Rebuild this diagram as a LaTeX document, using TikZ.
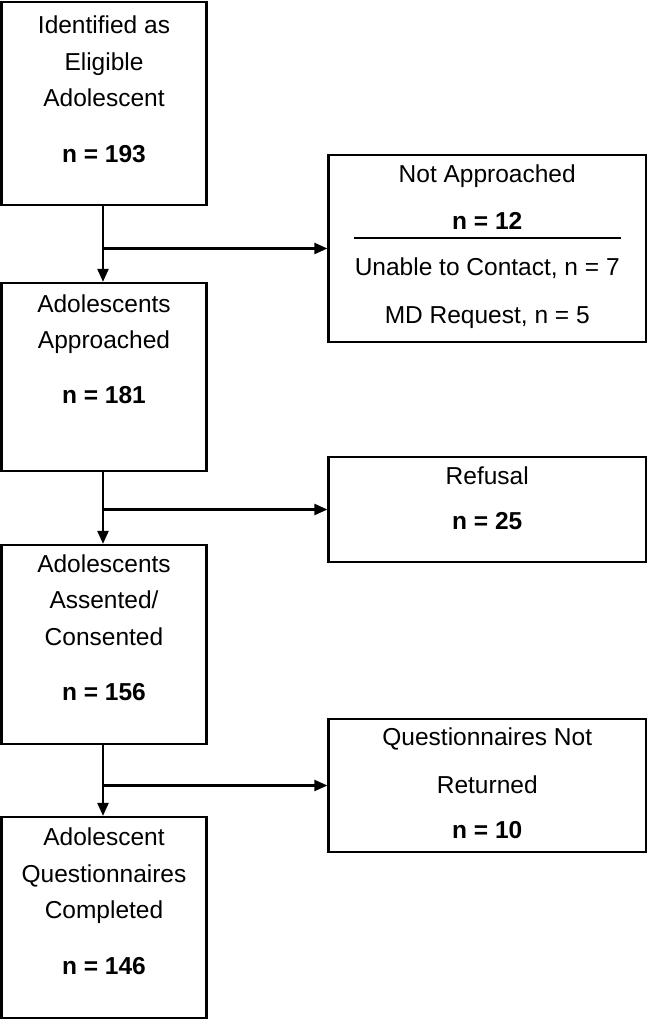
\documentclass[tikz,border=0pt]{standalone}
\usepackage{fontspec}
\setmainfont{Liberation Sans}
\usetikzlibrary{arrows.meta}
\begin{document}
\begin{tikzpicture}[x=1pt,y=-1pt,
  box/.style={draw=black, line width=2.2pt, rectangle, inner sep=0pt},
  txt/.style={anchor=base, inner sep=0pt, font=\fontsize{24.5}{30}\selectfont},
  btxt/.style={txt, font=\fontsize{24.5}{30}\selectfont\bfseries},
  arr/.style={line width=2.2pt, -{Triangle[length=13pt,width=11pt]}},
  ln/.style={line width=2.2pt}]
\useasboundingbox (0,0) rectangle (648,1020);
% left boxes
\node[box, minimum width=205pt, minimum height=203pt] (b1) at (104,103.5) {};
\node[box, minimum width=205pt, minimum height=188pt] (b2) at (104,377) {};
\node[box, minimum width=205pt, minimum height=199pt] (b3) at (104,644.5) {};
\node[box, minimum width=205pt, minimum height=201pt] (b4) at (104,917.5) {};
% right boxes
\node[box, minimum width=317.5pt, minimum height=187pt] (rA) at (487.25,248.5) {};
\node[box, minimum width=317.5pt, minimum height=105pt] (rB) at (487.25,509.5) {};
\node[box, minimum width=317.5pt, minimum height=133pt] (rC) at (487.25,785.5) {};
% texts box 1
\node[txt] (t11) at (104,33) {Identified as};
\node[txt] (t12) at (104,70) {Eligible};
\node[txt] (t13) at (104,106) {Adolescent};
\node[btxt] (t14) at (104,162) {n = 193};
% box 2
\node[txt] (t21) at (104,312) {Adolescents};
\node[txt] (t22) at (104,348) {Approached};
\node[btxt] (t23) at (104,403) {n = 181};
% box 3
\node[txt] (t31) at (104,572) {Adolescents};
\node[txt] (t32) at (104,608) {Assented/};
\node[txt] (t33) at (104,645) {Consented};
\node[btxt] (t34) at (104,700) {n = 156};
% box 4
\node[txt] (t41) at (104,845) {Adolescent};
\node[txt] (t42) at (104,882) {Questionnaires};
\node[txt] (t43) at (104,918) {Completed};
\node[btxt] (t44) at (104,974) {n = 146};
% right A
\node[txt] (a1) at (487.25,182) {Not Approached};
\node[btxt] (a2) at (487.25,229) {n = 12};
\coordinate (dl) at (354,238);
\coordinate (dr) at (621,238);
\draw[ln] (dl) -- (dr);
\node[txt] (a3) at (487.25,275) {Unable to Contact, n = 7};
\node[txt] (a4) at (487.25,323) {MD Request, n = 5};
% right B
\node[txt] (bb1) at (487.25,484) {Refusal};
\node[btxt] (bb2) at (487.25,529) {n = 25};
% right C
\node[txt] (c1) at (487.25,745) {Questionnaires Not};
\node[txt] (c2) at (487.25,793) {Returned};
\node[btxt] (c3) at (487.25,838) {n = 10};
% connectors
\coordinate (j1) at (103,248.5);
\coordinate (j2) at (103,509.5);
\coordinate (j3) at (103,785.5);
\draw[arr] (b1.south -| j1) -- (b2.north -| j1);
\draw[arr] (j1) -- (rA.west);
\draw[arr] (b2.south -| j2) -- (b3.north -| j2);
\draw[arr] (j2) -- (rB.west);
\draw[arr] (b3.south -| j3) -- (b4.north -| j3);
\draw[arr] (j3) -- (rC.west);
\end{tikzpicture}
\end{document}
